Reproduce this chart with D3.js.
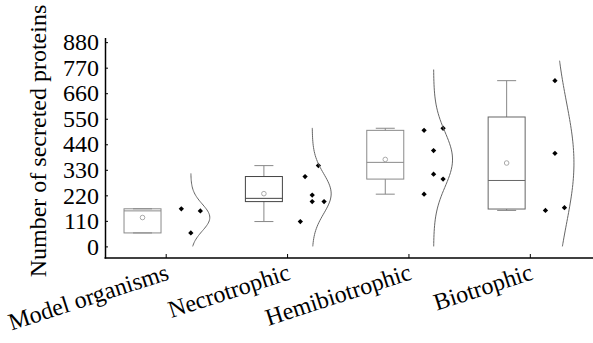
<!DOCTYPE html>
<html>
<head>
<meta charset="utf-8">
<script src="https://cdn.jsdelivr.net/npm/d3@7"></script>
<style>
  body { margin: 0; background: #fff; }
  text { font-family: "Liberation Serif", "Times New Roman", serif; fill: #000; }
</style>
</head>
<body>
<div id="chart"></div>
<script>
// ---- data ----
const categories = ["Model organisms", "Necrotrophic", "Hemibiotrophic", "Biotrophic"];
const modelValues = [58, 153, 162];
const necroValues = [107, 193, 193, 221, 301, 348];
const hemiValues = [225, 290, 311, 413, 500, 509];
const bioValues = [155, 167, 401, 714];
// horizontal jitter slot of each point (same order as the values)
const modelJitter = [0, 1, -1];
const necroJitter = [-1.25, 0, 1.25, 0, -0.75, 0.65];
const hemiJitter = [-1, 1, 0, 0, -1, 1];
const bioJitter = [-1, 1, 0, 0];
const yTicks = [0, 110, 220, 330, 440, 550, 660, 770, 880];
const curveCap = 800;

const groups = [
  { name: categories[0], values: modelValues, jitter: modelJitter, stroke: "#8a8a8a" },
  { name: categories[1], values: necroValues, jitter: necroJitter, stroke: "#444" },
  { name: categories[2], values: hemiValues, jitter: hemiJitter, stroke: "#8a8a8a" },
  { name: categories[3], values: bioValues, jitter: bioJitter, stroke: "#666" }
];

const width = 593, height = 343;

const svg = d3.select("#chart").append("svg")
  .attr("width", width)
  .attr("height", height);

const x = d3.scaleBand().domain(categories).range([105.5, 591]);
const y = d3.scaleLinear().domain([-50, 900]).range([258, 37.5]);
const bw = x.bandwidth();
const slot = 9.5;

// quartiles: median of lower / upper half, median excluded for odd n
function stats(vals) {
  const s = vals.slice().sort(d3.ascending);
  const n = s.length, h = Math.floor(n / 2);
  const lower = s.slice(0, h), upper = s.slice(n - h);
  return {
    min: s[0], max: s[n - 1],
    q1: d3.median(lower), q3: d3.median(upper),
    med: d3.median(s), mean: d3.mean(s), sd: d3.deviation(s)
  };
}

// ---- axes ----
const yAxis = d3.axisLeft(y).tickValues(yTicks).tickSizeInner(-3).tickSizeOuter(0).tickPadding(6);
const gy = svg.append("g").attr("transform", "translate(105,0)").call(yAxis);
gy.selectAll("text").style("font-size", "24px").attr("font-family", null);
gy.select(".domain").attr("stroke-width", 1.5);

const xAxis = d3.axisBottom(x).tickSizeInner(-4).tickSizeOuter(0).tickFormat("");
const gx = svg.append("g").attr("transform", "translate(0,258)").call(xAxis);
gx.select(".domain").attr("stroke-width", 1.5).attr("d", "M104.5,0H" + width);

svg.append("g").selectAll("text")
  .data(categories)
  .join("text")
  .attr("text-anchor", "end")
  .style("font-size", "24px")
  .attr("transform", d => `translate(${x(d) + bw / 2 + 4},279) rotate(-18)`)
  .text(d => d);

svg.append("text")
  .attr("text-anchor", "middle")
  .style("font-size", "24px")
  .attr("transform", "translate(46,141) rotate(-90)")
  .text("Number of secreted proteins");

// ---- groups ----
groups.forEach(g => {
  const st = stats(g.values);
  const cx = x(g.name) + bw / 2;
  const bx = cx - 0.195 * bw;   // box centre
  const px = cx + 0.203 * bw;   // points / curve baseline
  const boxW = 37, capW = 19;
  const gg = svg.append("g");

  // whiskers
  gg.append("line").attr("x1", bx).attr("x2", bx).attr("y1", y(st.q3)).attr("y2", y(st.max))
    .attr("stroke", "#888");
  gg.append("line").attr("x1", bx).attr("x2", bx).attr("y1", y(st.q1)).attr("y2", y(st.min))
    .attr("stroke", "#888");
  [st.min, st.max].forEach(v => {
    gg.append("line").attr("x1", bx - capW / 2).attr("x2", bx + capW / 2)
      .attr("y1", y(v)).attr("y2", y(v)).attr("stroke", "#888");
  });

  // box
  gg.append("rect")
    .attr("x", bx - boxW / 2).attr("width", boxW)
    .attr("y", y(st.q3)).attr("height", y(st.q1) - y(st.q3))
    .attr("fill", "none").attr("stroke", g.stroke);
  gg.append("line").attr("x1", bx - boxW / 2).attr("x2", bx + boxW / 2)
    .attr("y1", y(st.med)).attr("y2", y(st.med)).attr("stroke", g.stroke);
  gg.append("circle").attr("cx", bx).attr("cy", y(st.mean)).attr("r", 2.3)
    .attr("fill", "none").attr("stroke", "#aaa");

  // points
  gg.selectAll("path.pt")
    .data(g.values)
    .join("path")
    .attr("class", "pt")
    .attr("d", d3.symbol(d3.symbolSquare, 14))
    .attr("transform", (d, i) => `translate(${px + g.jitter[i] * slot},${y(d)}) rotate(45)`)
    .attr("fill", "#000");

  // normal curve
  const lo = Math.max(0, st.mean - 3.3 * st.sd);
  const hi = Math.min(curveCap, st.mean + 3.3 * st.sd);
  const vs = d3.range(0, 61).map(i => lo + (hi - lo) * i / 60);
  const peakW = 19;
  const line = d3.line()
    .x(v => px + peakW * Math.exp(-0.5 * Math.pow((v - st.mean) / st.sd, 2)))
    .y(v => y(v))
    .curve(d3.curveBasis);
  gg.append("path").attr("d", line(vs))
    .attr("fill", "none").attr("stroke", "#666").attr("stroke-width", 1);
});
</script>
</body>
</html>
